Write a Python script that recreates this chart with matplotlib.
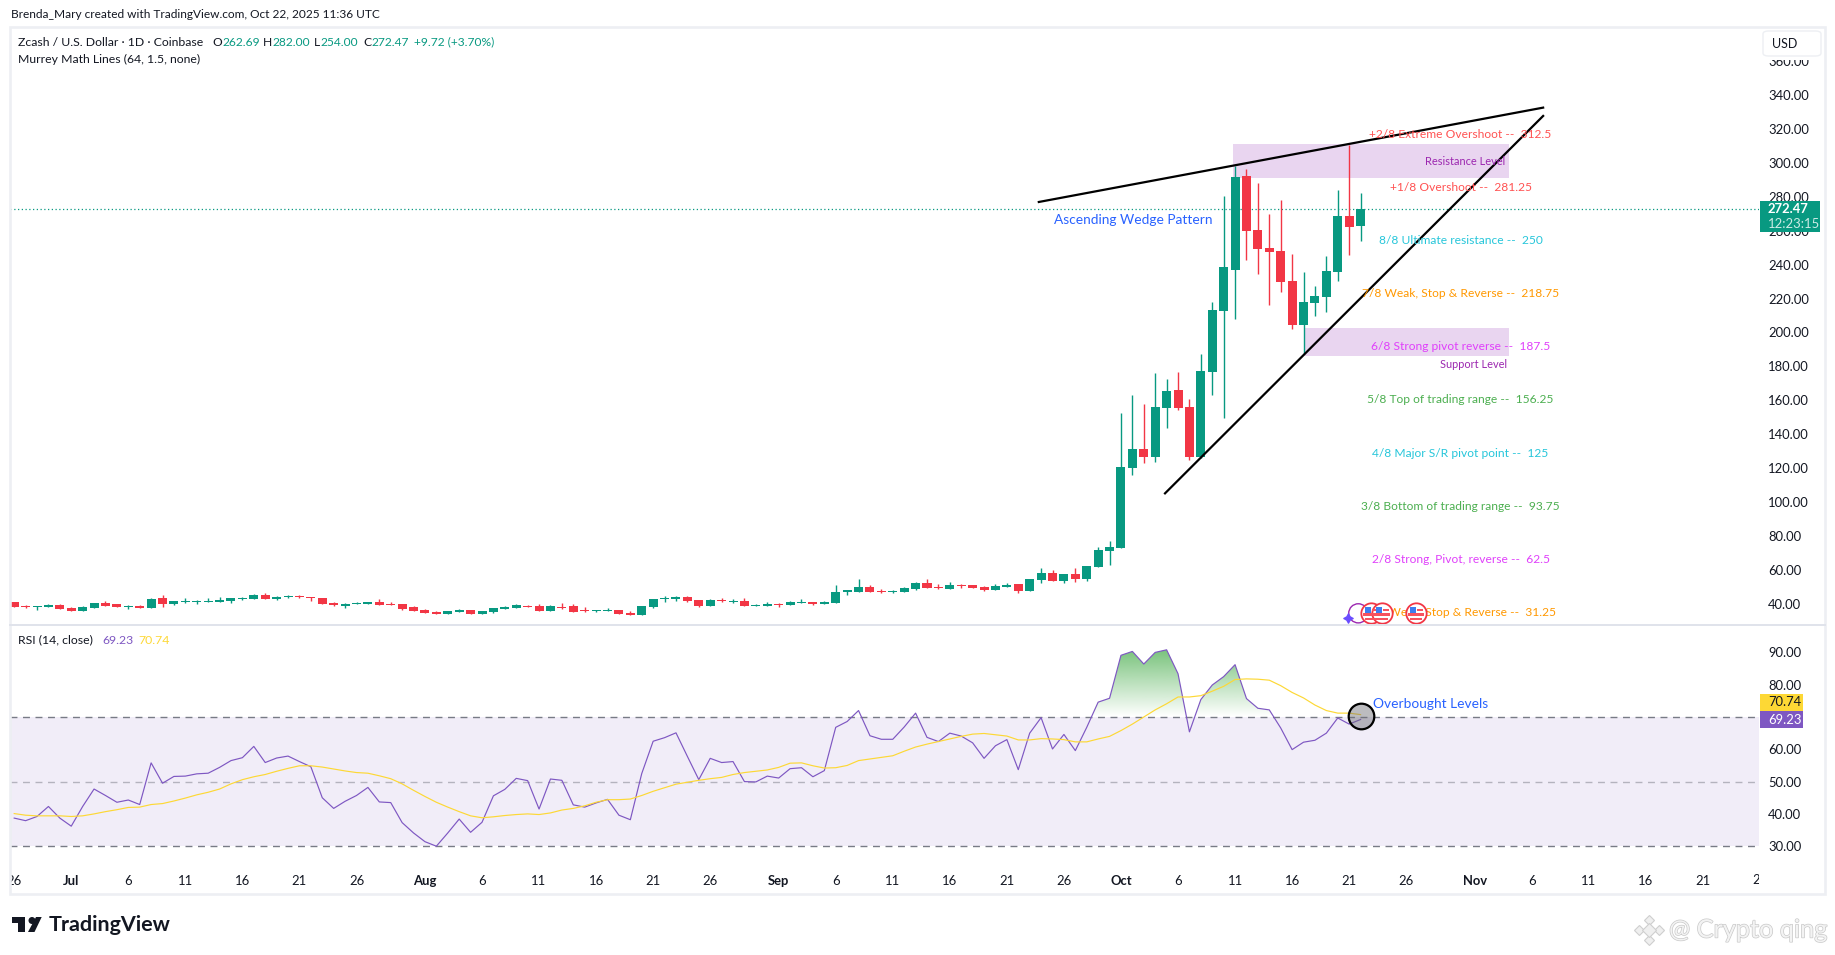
import numpy as np
import matplotlib
matplotlib.use("Agg")
import matplotlib.pyplot as plt
import matplotlib.patheffects as pe
from matplotlib.patches import Rectangle, FancyBboxPatch, Polygon, Circle
from matplotlib.path import Path
from matplotlib.lines import Line2D

FONT = ["Lato", "Noto Sans", "DejaVu Sans"]
plt.rcParams["font.family"] = FONT

W, H = 1835, 955
PT = 0.72

# day 0 = Jun 26, one entry per day up to Oct 22
opens = [41.2, 39, 38.2, 38.2, 39.4, 37.6, 35.8, 37.6, 40.6, 40, 38.2, 38.8, 37.6, 43.5, 40, 41.2, 41.2, 41.2, 41.2, 41.7,
         42.9, 42.9, 45.3, 42.9, 44.1, 44.7, 44.1, 43.5, 40.6, 38.8, 40, 40, 41.2, 40, 40, 38.2, 36.4, 35.3, 34.1, 35.3,
         36.4, 34.1, 35.3, 37, 37.6, 38.8, 38.8, 35.8, 38.2, 38.8, 36.4, 35.8, 35.8, 36.4, 34.7, 33.5, 38.2, 43, 43, 44.1,
         42.4, 38.8, 42.4, 41.2, 41.8, 38.8, 38.8, 40, 39.4, 40.6, 41.2, 40, 40.6, 47.1, 47.1, 50, 47.9, 47.1, 47.1, 48.8,
         52.4, 50, 48.8, 51.4, 51.2, 50, 48.3, 50, 51.8, 47.7, 54.1, 58.3, 53.6, 57.7, 54.7, 61.8, 71.2, 73, 120.1, 131.3,
         126.6, 155.5, 166.1, 156.1, 126.6, 176.9, 212.7, 236.8, 292.2, 260.4, 249.8, 248, 230.3, 204.4, 217.4, 220.9, 235.6, 268.6, 262.69]
highs = [41.2, 39.6, 38.8, 40.2, 40, 38.2, 38.8, 40.6, 41.7, 40, 39.4, 39.4, 43.5, 45.3, 41.7, 43.5, 42.3, 43.5, 44.1, 43.5,
         44.1, 45.9, 46.5, 44.7, 45.3, 45.3, 44.1, 43.5, 41.2, 40.6, 41.2, 41.2, 42.9, 41.2, 40, 38.8, 37, 35.8, 35.8, 37,
         36.4, 35.8, 37.6, 38.8, 40, 39.4, 40, 39.4, 40.6, 40, 38.2, 36.4, 37.6, 36.4, 35.9, 38.8, 43, 44.7, 44.7, 44.7,
         42.4, 43, 43.5, 43, 43.5, 40, 41.2, 40.6, 41.8, 43, 41.2, 41.8, 51.2, 48.3, 54.7, 51.2, 48.8, 48.3, 50, 53,
         54.7, 51.8, 53, 51.8, 51.2, 50.6, 51.8, 52.4, 51.8, 54.7, 61.2, 60, 57.7, 61.2, 62.4, 73.6, 77.1, 152.6, 163.2, 157.9,
         176.1, 172.6, 176.7, 160.8, 187.3, 217.8, 280.4, 298.1, 296.3, 288.1, 269.8, 278, 246.2, 235.6, 227.4, 245, 284, 310.5, 282]
lows = [38.2, 37.6, 36.4, 38.2, 37, 35.8, 35.8, 37.6, 38.8, 38.2, 37, 37.6, 37.6, 38.2, 39.4, 40.6, 40, 41.2, 41.2, 40.6,
        42.3, 42.9, 42.9, 42.3, 43.5, 43.5, 41.7, 40, 38.8, 37.6, 40, 40, 39.4, 39.4, 36.4, 35.8, 34.7, 34.1, 34.1, 35.3,
        34.1, 34.1, 34.7, 37, 37.6, 38.2, 35.8, 35.8, 37, 35.3, 35.3, 35.3, 35.8, 34.1, 33.5, 33.5, 37.6, 41.2, 41.8, 41.2,
        38.2, 38.8, 41.2, 40.6, 38.8, 38.8, 38.8, 38.2, 39.4, 40.6, 39.4, 40, 40.6, 45.3, 47.1, 47.1, 46.5, 46.5, 47.1, 48.3,
        49.4, 48.8, 48.8, 49.4, 49.4, 47.7, 48.3, 50, 46.5, 47.7, 52.4, 53.6, 52.4, 53, 53.6, 61.8, 63, 73, 116, 123.1,
        123.7, 143.7, 154.3, 124.9, 125.9, 163.2, 149.8, 207.9, 242.7, 234.5, 216.2, 223.9, 202, 187.3, 209.7, 212, 230.3, 245.7, 254]
closes = [38.2, 38.4, 38.8, 39.6, 37, 35.8, 38.2, 40.6, 38.8, 38.2, 38.8, 37.6, 42.9, 40, 41.7, 41.7, 41.7, 41.7, 42.3, 43.5,
          43.5, 45.3, 42.9, 44.1, 44.7, 44.1, 43.7, 40, 39.4, 40, 40.6, 41.2, 39.4, 39.4, 37, 35.8, 34.7, 34.1, 35.8, 36.4,
          34.1, 35.8, 37.6, 38.2, 39.4, 38.2, 35.8, 38.8, 37.6, 35.3, 35.8, 36.4, 36.4, 34.1, 33.5, 38.8, 43, 43.5, 44.1, 41.8,
          38.8, 42.4, 41.8, 41.8, 38.8, 39.4, 40, 39.4, 41.2, 41.2, 40, 41.2, 47.1, 48.3, 50, 47.1, 47.1, 47.9, 49.4, 52.4,
          49.4, 49.4, 51.2, 50.6, 49.4, 48.3, 50.6, 51.2, 47.7, 54.7, 58.3, 53.6, 57.7, 54.7, 62.4, 71.8, 73.6, 120.7, 131.3, 126.6,
          156.1, 165.5, 155.5, 126.6, 177.3, 213.2, 238.6, 291.6, 259.8, 249.2, 247.4, 229.7, 204.4, 218, 221.5, 236.2, 268.6, 262.2, 272.47]

rsi = [38.7, 37.9, 39.2, 42.3, 38.7, 36.2, 42.3, 47.7, 45.7, 43.6, 44.3, 42.9, 55.8, 49.5, 51.6, 51.7, 52.4, 52.6, 54.4, 56.5,
       57.4, 60.9, 55.9, 57.3, 57.9, 56.2, 54.6, 45, 41.7, 43.9, 45.7, 48.2, 43.7, 43.5, 37.3, 34.1, 31.4, 30, 34.1, 38.4,
       34.3, 37.4, 45.6, 47.6, 51, 50.3, 41.5, 50.8, 50.4, 42.8, 42.1, 43.4, 44.5, 39.6, 38.2, 52.5, 62.5, 63.6, 65.1, 57.8,
       50.6, 57.2, 55.9, 56.2, 50, 49.9, 51.7, 51.1, 54, 54.3, 51.5, 53.4, 66.8, 68.6, 72, 64.2, 63.1, 63.1, 66.9, 71.2,
       63.7, 62.4, 65, 64.1, 62, 57.2, 61.1, 63, 53.7, 65, 69.8, 60.1, 64.6, 59.6, 66.8, 74.6, 75.8, 89.1, 90.3, 86.4,
       90, 90.8, 83.4, 65.4, 75.4, 79.9, 82.5, 86.2, 75.7, 72.7, 72.2, 66.6, 59.9, 62.2, 62.8, 65, 69.7, 67.8, 69.23]
rsi_ma = [40.1, 39.6, 39.4, 39.4, 39.4, 39.2, 39.4, 40, 40.7, 41.3, 42, 42.1, 42.9, 43.2, 44, 44.9, 45.9, 46.7, 47.7, 49.3,
          50.6, 51.5, 52.2, 53.2, 54.1, 54.9, 54.9, 54.5, 53.9, 53.3, 52.8, 52.6, 51.8, 50.9, 49.3, 47.3, 45.4, 43.6, 42.1, 40.7,
          39.4, 38.8, 39.1, 39.5, 39.8, 40, 39.8, 40.3, 41.2, 41.7, 42.5, 43.6, 44.4, 44.4, 44.6, 45.7, 47, 48.1, 49.2, 49.8,
          50.4, 50.9, 51.3, 52.2, 52.8, 53.2, 53.6, 54.4, 55.7, 55.8, 54.9, 54.2, 54.3, 55, 56.5, 57, 57.5, 58, 59.4, 60.7,
          61.6, 62.4, 63.2, 64, 64.7, 64.9, 64.5, 64.1, 62.9, 62.9, 63.3, 63.2, 63, 62.3, 62.3, 63.2, 64, 65.8, 67.8, 70,
          72.2, 74.1, 76.2, 76.2, 76.6, 78, 79.5, 81.6, 81.8, 81.7, 81.4, 79.7, 77.6, 75.9, 73.7, 72, 71.2, 71.2, 70.74]

last_close = 272.47

price_ticks = list(range(40, 361, 20))
rsi_ticks = [30, 40, 50, 60, 70, 80, 90]
time_ticks = [0, 5, 10, 15, 20, 25, 30, 36, 41, 46, 51, 56, 61, 67, 72, 77, 82, 87, 92, 97, 102, 107, 112, 117, 122, 128, 133, 138, 143, 148]
time_labels = ["26", "Jul", "6", "11", "16", "21", "26", "Aug", "6", "11", "16", "21", "26", "Sep", "6", "11", "16", "21", "26", "Oct",
               "6", "11", "16", "21", "26", "Nov", "6", "11", "16", "21"]
month_labels = ["Jul", "Aug", "Sep", "Oct", "Nov"]

murrey_levels = [312.5, 281.25, 250, 218.75, 187.5, 156.25, 125, 93.75, 62.5, 31.25]
murrey_names = ["+2/8 Extreme Overshoot", "+1/8 Overshoot", "8/8 Ultimate resistance", "7/8 Weak, Stop & Reverse",
                "6/8 Strong pivot reverse", "5/8 Top of trading range", "4/8 Major S/R pivot point",
                "3/8 Bottom of trading range", "2/8 Strong, Pivot, reverse", "1/8 Weak, Stop & Reverse"]
murrey_colors = ["#FF5252", "#FF5252", "#26C6DA", "#FF9800", "#E040FB", "#4CAF50", "#26C6DA", "#4CAF50", "#E040FB", "#FF9800"]

upper_wedge_x = [89.8, 134]
upper_wedge_y = [276.9, 332.5]
lower_wedge_x = [100.86, 134]
lower_wedge_y = [105.2, 327.6]
resistance_box = [106.8, 131, 291, 311]
support_box = [113, 131, 186.3, 202.6]
flag_days = [118.9, 119.9, 122.9]

GREEN = "#089981"
RED = "#F23645"
PURPLE = "#7E57C2"
YELLOW = "#FDD835"
BLUE = "#2962FF"
BOX = "#E9D5F0"
GREY = "#787B86"
TEXT = "#131722"
FRAME = "#EDEFF3"


def day_of(px):
    return (px - 14.2) / 11.41


def add_axes_px(x0, y0, x1, y1):
    return fig.add_axes([x0 / W, 1 - y1 / H, (x1 - x0) / W, (y1 - y0) / H])


def ftext(x, y, s, size, color=TEXT, ha="left", va="center", **kw):
    return fig.text(x / W, 1 - y / H, s, fontsize=size * PT, color=color, ha=ha, va=va, **kw)


def frect(x0, y0, x1, y1, color, z=5):
    r = Rectangle((x0 / W, 1 - y1 / H), (x1 - x0) / W, (y1 - y0) / H, transform=fig.transFigure,
                  facecolor=color, edgecolor="none", zorder=z)
    fig.add_artist(r)
    return r


def fpoly(points, color, edge="none", z=6):
    pts = [(x / W, 1 - y / H) for x, y in points]
    fig.add_artist(Polygon(pts, closed=True, transform=fig.transFigure, facecolor=color, edgecolor=edge, zorder=z))


def flag_path(part):
    # flag drawn inside a unit square, corners keep the marker scale the same
    verts = [(1, 1), (-1, -1)]
    codes = [Path.MOVETO, Path.MOVETO]
    if part == "blue":
        rects = [(-0.62, 0.0, 0.0, 0.62)]
    else:
        rects = [(-0.8, -0.28, 0.8, 0.0), (-0.62, -0.72, 0.62, -0.45), (0.1, 0.2, 0.72, 0.42)]
    for x0, y0, x1, y1 in rects:
        verts += [(x0, y0), (x1, y0), (x1, y1), (x0, y1), (x0, y0)]
        codes += [Path.MOVETO, Path.LINETO, Path.LINETO, Path.LINETO, Path.CLOSEPOLY]
    return Path(verts, codes)


fig = plt.figure(figsize=(W / 100, H / 100), dpi=100, facecolor="white")

ax = add_axes_px(10, 28, 1759, 625)
ax2 = add_axes_px(10, 625, 1759, 894)
xlim = (day_of(10), day_of(1759))

# candles
days = np.arange(len(closes))
o = np.array(opens)
c = np.array(closes)
colors = [GREEN if c[i] >= o[i] else RED for i in days]
ax.add_patch(Rectangle((resistance_box[0], resistance_box[2]), resistance_box[1] - resistance_box[0],
                       resistance_box[3] - resistance_box[2], facecolor=BOX, edgecolor="none", zorder=1))
ax.add_patch(Rectangle((support_box[0], support_box[2]), support_box[1] - support_box[0],
                       support_box[3] - support_box[2], facecolor=BOX, edgecolor="none", zorder=1))
ax.axhline(last_close, color=GREEN, lw=0.9, ls=(0, (1, 2)), zorder=2)
ax.vlines(days, lows, highs, colors=colors, lw=1.0, zorder=3)
ax.bar(days, np.maximum(np.abs(c - o), 0.6), bottom=np.minimum(o, c), width=0.79, color=colors, zorder=4)

ax.plot(upper_wedge_x, upper_wedge_y, color="black", lw=1.6, zorder=5)
ax.plot(lower_wedge_x, lower_wedge_y, color="black", lw=1.6, zorder=5)

for lev, name, col in zip(murrey_levels, murrey_names, murrey_colors):
    ax.annotate(name + " --  " + str(lev), (day_of(1460.5), lev), xytext=(0, 0.9), textcoords="offset points",
                color=col, fontsize=12 * PT, ha="center", va="bottom", zorder=6)

ax.text(day_of(1054), 266.5, "Ascending Wedge Pattern", color=BLUE, fontsize=13.8 * PT, ha="left", va="center", zorder=6)
ax.text(day_of(1505), 301, "Resistance Level", color="#9C27B0", fontsize=11 * PT, ha="right", va="center", zorder=6)
ax.text(day_of(1507.5), 181.4, "Support Level", color="#9C27B0", fontsize=11 * PT, ha="right", va="center", zorder=6)

# event icons along the bottom
ax.scatter([117.8], [34.5], s=190, facecolor="none", edgecolor="#9C27B0", lw=1, zorder=7)
ax.scatter([116.9], [31.5], s=45, marker=(4, 1, 0), color="#6A4DFF", zorder=7)
ax.scatter(flag_days, [34.5] * 3, s=215, facecolor="white", edgecolor=RED, lw=1.3, zorder=8)
ax.scatter(flag_days, [34.5] * 3, s=215, marker=flag_path("red"), color="#F7525F", lw=0, zorder=9)
ax.scatter(flag_days, [34.5] * 3, s=215, marker=flag_path("blue"), color="#3D7DF0", lw=0, zorder=9)

ax.set_xlim(xlim)
ax.set_ylim(40 + (604 - 625) / 1.697, 40 + (604 - 28) / 1.697)
ax.yaxis.tick_right()
ax.set_yticks(price_ticks)
ax.set_yticklabels(["%.2f" % t for t in price_ticks])
ax.set_xticks([])
ax.tick_params(axis="y", length=0, pad=6.5, labelsize=13 * PT, labelcolor=TEXT)
for s in ax.spines.values():
    s.set_visible(False)

# RSI pane
ax2.axhspan(30, 70, facecolor=PURPLE, alpha=0.1, edgecolor="none", zorder=1)
ax2.axhline(70, color=GREY, lw=1, ls=(0, (5, 4)), zorder=2)
ax2.axhline(50, color=GREY, lw=1, ls=(0, (5, 4)), alpha=0.5, zorder=2)
ax2.axhline(30, color=GREY, lw=1, ls=(0, (5, 4)), zorder=2)

r = np.array(rsi)
region = ax2.fill_between(days, r, 70, where=r > 70, interpolate=True, facecolor="none", edgecolor="none")
grad = np.zeros((64, 2, 4))
grad[..., 0] = 76 / 255
grad[..., 1] = 175 / 255
grad[..., 2] = 80 / 255
grad[..., 3] = np.linspace(0.75, 0, 64)[:, None]
im = ax2.imshow(grad, extent=(days[0], days[-1], 70, 91), aspect="auto", zorder=2, interpolation="bilinear")
im.set_clip_path(Path.make_compound_path(*region.get_paths()), ax2.transData)

ax2.plot(days, rsi, color=PURPLE, lw=0.85, zorder=3)
ax2.plot(days, rsi_ma, color=YELLOW, lw=0.85, zorder=3)
ax2.scatter([118], [70.4], s=340, facecolor=(0.42, 0.42, 0.45, 0.45), edgecolor="black", lw=1.6, zorder=4)
ax2.text(day_of(1373), 73.9, "Overbought Levels", color=BLUE, fontsize=13.8 * PT, ha="left", va="center", zorder=6)

ax2.set_xlim(xlim)
ax2.set_ylim(70 - (894 - 717) / 3.23, 70 + (717 - 625) / 3.23)
ax2.yaxis.tick_right()
ax2.set_yticks(rsi_ticks)
ax2.set_yticklabels(["%.2f" % t for t in rsi_ticks])
ax2.tick_params(axis="y", length=0, pad=6.5, labelsize=13 * PT, labelcolor=TEXT)
ax2.set_xticks(time_ticks)
ax2.set_xticklabels(time_labels)
ax2.tick_params(axis="x", length=0, direction="in", pad=-14, labelsize=13 * PT, labelcolor=TEXT)
for lab in ax2.get_xticklabels():
    lab.set_clip_on(True)
    lab.set_clip_box(ax2.bbox)
    if lab.get_text() in month_labels:
        lab.set_fontweight("bold")
for s in ax2.spines.values():
    s.set_visible(False)
# Nov 26 label falls past the edge of the pane and gets cut
ax2.text(153, 70 - (880 - 717) / 3.23, "26", fontsize=13 * PT, color=TEXT, ha="center", va="center", clip_on=True)

# frame
fig.add_artist(Rectangle((10 / W, 1 - 894 / H), 1815 / W, 867 / H, transform=fig.transFigure,
                         facecolor="none", edgecolor=FRAME, lw=1.9, zorder=6))
fig.add_artist(Line2D([10 / W, 1825 / W], [1 - 625 / H] * 2, color="#E0E3EB", lw=1.4, zorder=6))

# header and legends
ftext(10.5, 15, "Brenda_Mary created with TradingView.com, Oct 22, 2025 11:36 UTC", 11.9)
ftext(18, 42, "Zcash / U.S. Dollar · 1D · Coinbase", 12.2)
for x, s, col in [(212.5, "O", TEXT), (222, "262.69", GREEN), (263, "H", TEXT), (272, "282.00", GREEN),
                  (314, "L", TEXT), (320.5, "254.00", GREEN), (363, "C", TEXT), (371, "272.47", GREEN),
                  (413.6, "+9.72 (+3.70%)", GREEN)]:
    ftext(x, 42, s, 12, col)
ftext(18, 59, "Murrey Math Lines (64, 1.5, none)", 12.2)
ftext(18, 640, "RSI (14, close)", 12.2)
ftext(102, 640, "69.23", 12.2, PURPLE)
ftext(138, 640, "70.74", 12.2, YELLOW)

# axis tags
frect(1760, 29, 1823, 60, "white", z=5)
fig.add_artist(FancyBboxPatch((1763 / W, 1 - 56 / H), 58 / W, 25 / H, boxstyle="round,pad=0,rounding_size=0.003",
                              transform=fig.transFigure, facecolor="white", edgecolor=FRAME, lw=1, zorder=5))
ftext(1772, 44, "USD", 12.5, TEXT, zorder=6)
frect(1760, 201, 1820, 232, GREEN)
ftext(1768, 209, "272.47", 13, "white", fontweight="bold", zorder=6)
ftext(1768, 224, "12:23:15", 13, "#CDEBE5", zorder=6)
frect(1760, 694, 1803, 711, YELLOW)
frect(1760, 711, 1803, 728, PURPLE)
ftext(1768, 702.5, "70.74", 13, TEXT, zorder=6)
ftext(1768, 719.5, "69.23", 13, "white", zorder=6)

# TradingView logo
fpoly([(12, 917), (25, 917), (25, 932), (18, 932), (18, 923), (12, 923)], TEXT)
fig.add_artist(Circle((32 / W * fig.bbox.width, (1 - 920.5 / H) * fig.bbox.height), 3.5, transform=None,
                      facecolor=TEXT, edgecolor="none", zorder=6))
fpoly([(36, 917), (41.7, 917), (34.5, 932), (28, 932)], TEXT)
ftext(49, 925, "TradingView", 21.5, TEXT, fontweight="bold")

# watermark
wm = ftext(1669, 930, "@ Crypto qing", 25.3, "#F3F3F3", zorder=6)
wm.set_path_effects([pe.withStroke(linewidth=1, foreground="#C9C9C9")])
for dx, dy, sz in [(0, -10, 5), (-10, 0, 5), (10, 0, 5), (0, 10, 5), (0, 0, 7)]:
    fig.add_artist(Line2D([(1649 + dx) / W], [1 - (930 + dy) / H], marker="D", ms=sz, mfc="#EFEFEF", mec="#CFCFCF",
                          mew=0.8, ls="none", transform=fig.transFigure, zorder=6))

fig.savefig("out.png", dpi=100)
